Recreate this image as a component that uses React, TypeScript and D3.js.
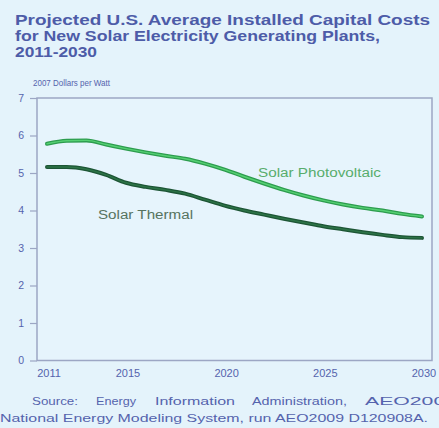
import React, { useRef, useEffect } from 'react';
import * as d3 from 'd3';

const years = d3.range(2011, 2031);
const photovoltaic = [5.78, 5.86, 5.87, 5.76, 5.65, 5.55, 5.46, 5.38, 5.25, 5.09, 4.9, 4.72, 4.55, 4.4, 4.27, 4.16, 4.07, 4.0, 3.91, 3.84];
const thermal = [5.16, 5.16, 5.1, 4.95, 4.74, 4.63, 4.55, 4.45, 4.29, 4.13, 4.0, 3.89, 3.78, 3.68, 3.58, 3.5, 3.42, 3.35, 3.29, 3.27];
const yTicks = [0, 1, 2, 3, 4, 5, 6, 7];
const xTickYears = [2011, 2015, 2020, 2025, 2030];
const titleLines = [
  'Projected U.S. Average Installed Capital Costs',
  'for New Solar Electricity Generating Plants,',
  '2011-2030',
];
const titleWidths = [415, 365, 82];
const sourceWords = ['Source:', 'Energy', 'Information', 'Administration,', 'AEO2009'];
const sourceWordX = [32, 96, 155, 252, 365];
const sourceWordW = [46, 40, 80, 95, 92];

const W = 439;
const H = 428;

const App: React.FC = () => {
  const svgRef = useRef<SVGSVGElement | null>(null);

  useEffect(() => {
    const svg = d3.select(svgRef.current);
    svg.selectAll('*').remove();

    const blue = '#5563ad';
    const axisColor = '#9ca6c4';
    const font = 'Arial, "Liberation Sans", sans-serif';

    svg.append('rect').attr('width', W).attr('height', H).attr('fill', '#e4f3fb');

    // title
    svg.append('g')
      .selectAll('text')
      .data(titleLines)
      .enter()
      .append('text')
      .attr('x', 15)
      .attr('y', (d, i) => 25 + i * 16.2)
      .attr('fill', '#4d5ca8')
      .attr('font-family', font)
      .attr('font-weight', 'bold')
      .attr('font-size', 14)
      .attr('textLength', (d, i) => titleWidths[i])
      .attr('lengthAdjust', 'spacingAndGlyphs')
      .text(d => d);

    const x = d3.scaleLinear().domain([2011, 2030]).range([47, 422]);
    const y = d3.scaleLinear().domain([0, 7]).range([360.5, 98]);
    const plotLeft = 37;
    const plotRight = 432;

    // frame
    svg.append('rect')
      .attr('x', plotLeft)
      .attr('y', y(7))
      .attr('width', plotRight - plotLeft)
      .attr('height', y(0) - y(7))
      .attr('fill', '#e6f4fc')
      .attr('stroke', axisColor)
      .attr('stroke-width', 1.5);

    // y axis
    const yAxis = svg.append('g').attr('transform', `translate(${plotLeft},0)`)
      .call(d3.axisLeft(y).tickValues(yTicks).tickSize(7).tickPadding(6).tickFormat(d3.format('d')));
    yAxis.select('.domain').remove();
    yAxis.selectAll('line').attr('stroke', axisColor).attr('stroke-width', 1.2);
    yAxis.selectAll('text')
      .attr('fill', blue)
      .attr('font-family', font)
      .attr('font-size', 10.5);

    svg.append('text')
      .attr('x', 33)
      .attr('y', 86)
      .attr('fill', blue)
      .attr('font-family', font)
      .attr('font-size', 9.5)
      .attr('textLength', 77)
      .attr('lengthAdjust', 'spacingAndGlyphs')
      .text('2007 Dollars per Watt');

    // x labels
    svg.append('g')
      .selectAll('text')
      .data(xTickYears)
      .enter()
      .append('text')
      .attr('x', d => x(d) + 2)
      .attr('y', 377)
      .attr('text-anchor', 'middle')
      .attr('fill', blue)
      .attr('font-family', font)
      .attr('font-size', 11)
      .text(d => String(d));

    const line = d3.line<number>()
      .x((d, i) => x(years[i]))
      .y(d => y(d))
      .curve(d3.curveMonotoneX);

    const series = [
      { values: photovoltaic, outer: '#2d9c4e', inner: '#55d073' },
      { values: thermal, outer: '#1d5535', inner: '#2d7447' },
    ];
    series.forEach(s => {
      svg.append('path')
        .attr('d', line(s.values)!)
        .attr('fill', 'none')
        .attr('stroke', s.outer)
        .attr('stroke-width', 4)
        .attr('stroke-linecap', 'round');
      svg.append('path')
        .attr('d', line(s.values)!)
        .attr('fill', 'none')
        .attr('stroke', s.inner)
        .attr('stroke-width', 1.4)
        .attr('stroke-linecap', 'round');
    });

    svg.append('text')
      .attr('x', 258)
      .attr('y', 177)
      .attr('fill', '#58ad6c')
      .attr('font-family', font)
      .attr('font-size', 12)
      .attr('textLength', 123)
      .attr('lengthAdjust', 'spacingAndGlyphs')
      .text('Solar Photovoltaic');

    svg.append('text')
      .attr('x', 98)
      .attr('y', 219)
      .attr('fill', '#56735f')
      .attr('font-family', font)
      .attr('font-size', 12)
      .attr('textLength', 95)
      .attr('lengthAdjust', 'spacingAndGlyphs')
      .text('Solar Thermal');

    // source
    svg.append('g')
      .selectAll('text')
      .data(sourceWords)
      .enter()
      .append('text')
      .attr('x', (d, i) => sourceWordX[i])
      .attr('y', 405)
      .attr('fill', blue)
      .attr('font-family', font)
      .attr('font-size', 11)
      .attr('textLength', (d, i) => sourceWordW[i])
      .attr('lengthAdjust', 'spacingAndGlyphs')
      .text(d => d);
    svg.append('text')
      .attr('x', 0)
      .attr('y', 422)
      .attr('fill', blue)
      .attr('font-family', font)
      .attr('font-size', 11)
      .attr('textLength', 428)
      .attr('lengthAdjust', 'spacingAndGlyphs')
      .text('National Energy Modeling System, run AEO2009 D120908A.');
  }, []);

  return (
    <svg
      ref={svgRef}
      width={W}
      height={H}
      style={{ position: 'absolute', left: 0, top: 0, display: 'block' }}
    />
  );
};

export default App;
